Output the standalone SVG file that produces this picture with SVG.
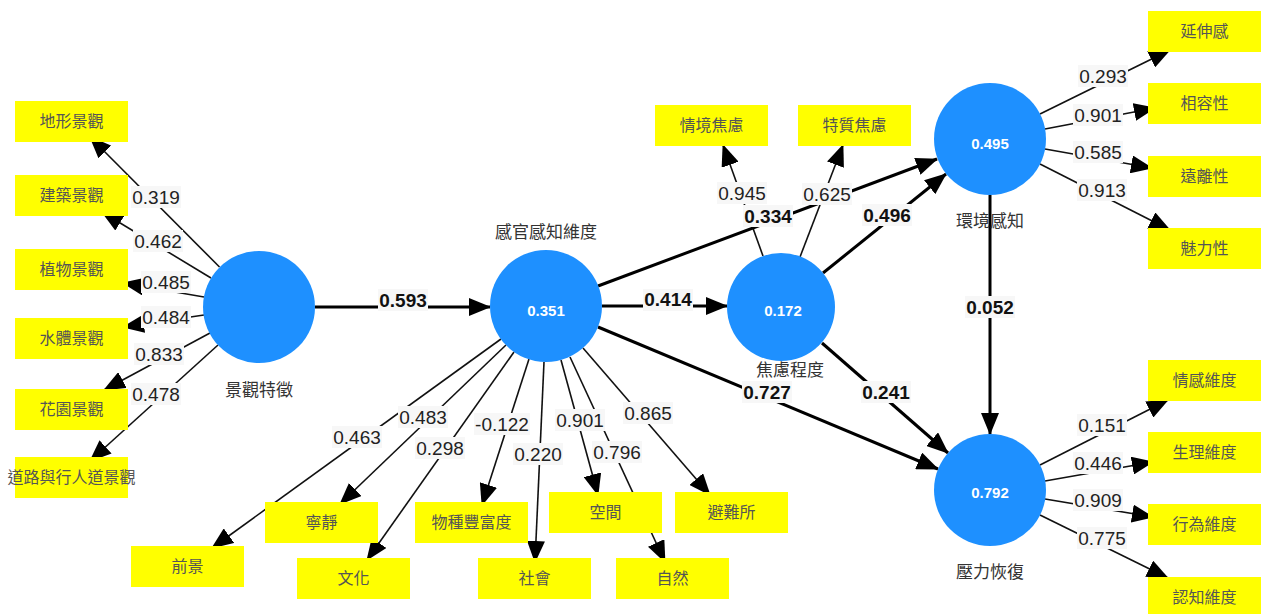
<svg xmlns="http://www.w3.org/2000/svg" width="1266" height="614" viewBox="0 0 1266 614">
<style>
.bg{fill:#ffffff}
.box{fill:#ffff00}
.node{fill:#1e90ff}
.bt{font-family:"Noto Sans CJK TC","Noto Sans CJK SC",sans-serif;font-size:16px;fill:#555;text-anchor:middle}
.nl{font-family:"Noto Sans CJK TC","Noto Sans CJK SC",sans-serif;font-size:17px;fill:#333;text-anchor:middle}
.nv{font-family:"Liberation Sans",Arial,sans-serif;font-size:15px;font-weight:bold;fill:#fff;text-anchor:middle}
.thin{stroke:#111;stroke-width:1.6;fill:none;marker-end:url(#ah)}
.thick{stroke:#000;stroke-width:3;fill:none;marker-end:url(#ah)}
.lr{fill:#f7f7f7}
.lt{font-family:"Liberation Sans",Arial,sans-serif;font-size:19px;fill:#222;text-anchor:middle}
.lb{font-family:"Liberation Sans",Arial,sans-serif;font-size:19px;font-weight:bold;fill:#111;text-anchor:middle}
</style>
<defs>
<marker id="ah" markerUnits="userSpaceOnUse" viewBox="0 0 22 18" markerWidth="22" markerHeight="18" refX="21" refY="9" orient="auto">
<path d="M0,0 L22,9 L0,18 z" fill="#000"/>
</marker>
</defs>
<rect width="1266" height="614" class="bg"/>

<g id="connectors">
<!-- 景觀特徵 indicators -->
<line class="thin" x1="219.5" y1="267" x2="90" y2="137"/>
<line class="thin" x1="211" y1="278" x2="102" y2="212"/>
<line class="thin" x1="204" y1="297" x2="123" y2="283"/>
<line class="thin" x1="204" y1="315" x2="123" y2="327"/>
<line class="thin" x1="210" y1="333" x2="104" y2="390"/>
<line class="thin" x1="218" y1="345" x2="90" y2="461"/>
<!-- 感官感知維度 indicators -->
<line class="thin" x1="501" y1="339" x2="212" y2="548"/>
<line class="thin" x1="506" y1="345" x2="340" y2="504"/>
<line class="thin" x1="514" y1="352" x2="367" y2="560"/>
<line class="thin" x1="529" y1="359" x2="482" y2="505"/>
<line class="thin" x1="544" y1="362" x2="535" y2="562"/>
<line class="thin" x1="561" y1="360" x2="598" y2="495"/>
<line class="thin" x1="570" y1="357" x2="665" y2="562"/>
<line class="thin" x1="583" y1="348" x2="710" y2="495"/>
<!-- 焦慮程度 indicators -->
<line class="thin" x1="763" y1="256" x2="723" y2="145"/>
<line class="thin" x1="800" y1="257" x2="843" y2="145"/>
<!-- 環境感知 indicators -->
<line class="thin" x1="1040" y1="114" x2="1170" y2="50"/>
<line class="thin" x1="1045" y1="129" x2="1155" y2="108"/>
<line class="thin" x1="1045" y1="149" x2="1152" y2="168"/>
<line class="thin" x1="1040" y1="164" x2="1170" y2="230"/>
<!-- 壓力恢復 indicators -->
<line class="thin" x1="1040" y1="465" x2="1168" y2="400"/>
<line class="thin" x1="1045" y1="481" x2="1153" y2="462"/>
<line class="thin" x1="1045" y1="499" x2="1153" y2="517"/>
<line class="thin" x1="1040" y1="515" x2="1168" y2="578"/>
<!-- structural paths -->
<line class="thick" x1="315" y1="307" x2="490" y2="307"/>
<line class="thick" x1="602" y1="306" x2="727" y2="306"/>
<line class="thick" x1="598" y1="286" x2="937" y2="159"/>
<line class="thick" x1="823" y1="273" x2="946" y2="174"/>
<line class="thick" x1="822" y1="343" x2="948" y2="453"/>
<line class="thick" x1="598" y1="327" x2="938" y2="469"/>
<line class="thick" x1="990" y1="195" x2="990" y2="434"/>

<!-- labels -->
<g>
<rect class="lr" x="131" y="186" width="50" height="22"/><text class="lt" x="156" y="204">0.319</text>
<rect class="lr" x="133" y="230" width="50" height="22"/><text class="lt" x="158" y="248">0.462</text>
<rect class="lr" x="141" y="271" width="50" height="22"/><text class="lt" x="166" y="289">0.485</text>
<rect class="lr" x="141" y="306" width="50" height="22"/><text class="lt" x="166" y="324">0.484</text>
<rect class="lr" x="134" y="343" width="50" height="22"/><text class="lt" x="159" y="361">0.833</text>
<rect class="lr" x="131" y="383" width="50" height="22"/><text class="lt" x="156" y="401">0.478</text>

<rect class="lr" x="332" y="426" width="50" height="22"/><text class="lt" x="357" y="444">0.463</text>
<rect class="lr" x="398" y="406" width="50" height="22"/><text class="lt" x="423" y="424">0.483</text>
<rect class="lr" x="415" y="437" width="50" height="22"/><text class="lt" x="440" y="455">0.298</text>
<rect class="lr" x="474" y="413" width="56" height="22"/><text class="lt" x="502" y="431">-0.122</text>
<rect class="lr" x="513" y="443" width="50" height="22"/><text class="lt" x="538" y="461">0.220</text>
<rect class="lr" x="555" y="409" width="50" height="22"/><text class="lt" x="580" y="427">0.901</text>
<rect class="lr" x="592" y="441" width="50" height="22"/><text class="lt" x="617" y="459">0.796</text>
<rect class="lr" x="623" y="402" width="50" height="22"/><text class="lt" x="648" y="420">0.865</text>

<rect class="lr" x="717" y="182" width="50" height="22"/><text class="lt" x="742" y="200">0.945</text>
<rect class="lr" x="802" y="183" width="50" height="22"/><text class="lt" x="827" y="201">0.625</text>

<rect class="lr" x="1078" y="65" width="50" height="22"/><text class="lt" x="1103" y="83">0.293</text>
<rect class="lr" x="1073" y="104" width="50" height="22"/><text class="lt" x="1098" y="122">0.901</text>
<rect class="lr" x="1073" y="141" width="50" height="22"/><text class="lt" x="1098" y="159">0.585</text>
<rect class="lr" x="1077" y="179" width="50" height="22"/><text class="lt" x="1102" y="197">0.913</text>

<rect class="lr" x="1077" y="414" width="50" height="22"/><text class="lt" x="1102" y="432">0.151</text>
<rect class="lr" x="1073" y="452" width="50" height="22"/><text class="lt" x="1098" y="470">0.446</text>
<rect class="lr" x="1073" y="489" width="50" height="22"/><text class="lt" x="1098" y="507">0.909</text>
<rect class="lr" x="1077" y="527" width="50" height="22"/><text class="lt" x="1102" y="545">0.775</text>

<rect class="lr" x="378" y="289" width="50" height="22"/><text class="lb" x="403" y="307">0.593</text>
<rect class="lr" x="643" y="289" width="50" height="22"/><text class="lb" x="668" y="306">0.414</text>
<rect class="lr" x="743" y="205" width="50" height="22"/><text class="lb" x="768" y="223">0.334</text>
<rect class="lr" x="862" y="204" width="50" height="22"/><text class="lb" x="887" y="222">0.496</text>
<rect class="lr" x="861" y="381" width="50" height="22"/><text class="lb" x="886" y="399">0.241</text>
<rect class="lr" x="742" y="381" width="50" height="22"/><text class="lb" x="767" y="399">0.727</text>
<rect class="lr" x="965" y="296" width="50" height="22"/><text class="lb" x="990" y="314">0.052</text>
</g>
</g>

<g id="n-jingguan"><circle class="node" cx="259" cy="307" r="56"/><text class="nl" x="259" y="396">景觀特徵</text></g>
<g id="n-ganguan"><circle class="node" cx="546" cy="306" r="56"/><text class="nv" x="546" y="316">0.351</text><text class="nl" x="546" y="238">感官感知維度</text></g>
<g id="n-jiaolv"><circle class="node" cx="781" cy="307" r="54"/><text class="nv" x="783" y="316">0.172</text><text class="nl" x="790" y="376">焦慮程度</text></g>
<g id="n-huanjing"><circle class="node" cx="990" cy="139" r="56"/><text class="nv" x="990" y="149">0.495</text><text class="nl" x="990" y="227">環境感知</text></g>
<g id="n-yali"><circle class="node" cx="990" cy="490" r="56"/><text class="nv" x="990" y="498">0.792</text><text class="nl" x="990" y="578">壓力恢復</text></g>

<g id="i-dixing"><rect class="box" x="15" y="101" width="113" height="41"/><text class="bt" x="71.5" y="127">地形景觀</text></g>
<g id="i-jianzhu"><rect class="box" x="15" y="175" width="113" height="41"/><text class="bt" x="71.5" y="201">建築景觀</text></g>
<g id="i-zhiwu"><rect class="box" x="15" y="249" width="113" height="41"/><text class="bt" x="71.5" y="275">植物景觀</text></g>
<g id="i-shuiti"><rect class="box" x="15" y="318" width="113" height="41"/><text class="bt" x="71.5" y="344">水體景觀</text></g>
<g id="i-huayuan"><rect class="box" x="15" y="389" width="113" height="41"/><text class="bt" x="71.5" y="415">花園景觀</text></g>
<g id="i-daolu"><rect class="box" x="15" y="457" width="113" height="41"/><text class="bt" x="71.5" y="483">道路與行人道景觀</text></g>

<g id="i-qingjing"><rect class="box" x="655" y="105" width="113" height="41"/><text class="bt" x="711.5" y="131">情境焦慮</text></g>
<g id="i-tezhi"><rect class="box" x="798" y="105" width="113" height="41"/><text class="bt" x="854.5" y="131">特質焦慮</text></g>

<g id="i-qianjing"><rect class="box" x="131" y="546" width="113" height="41"/><text class="bt" x="187.5" y="572">前景</text></g>
<g id="i-ningjing"><rect class="box" x="265" y="502" width="113" height="41"/><text class="bt" x="321.5" y="528">寧靜</text></g>
<g id="i-wenhua"><rect class="box" x="297" y="558" width="113" height="41"/><text class="bt" x="353.5" y="584">文化</text></g>
<g id="i-wuzhong"><rect class="box" x="415" y="502" width="113" height="41"/><text class="bt" x="471.5" y="528">物種豐富度</text></g>
<g id="i-shehui"><rect class="box" x="478" y="558" width="113" height="41"/><text class="bt" x="534.5" y="584">社會</text></g>
<g id="i-kongjian"><rect class="box" x="549" y="492" width="113" height="41"/><text class="bt" x="605.5" y="518">空間</text></g>
<g id="i-ziran"><rect class="box" x="616" y="558" width="113" height="41"/><text class="bt" x="672.5" y="584">自然</text></g>
<g id="i-binan"><rect class="box" x="675" y="492" width="113" height="41"/><text class="bt" x="731.5" y="518">避難所</text></g>

<g id="i-yanshen"><rect class="box" x="1148" y="11" width="113" height="41"/><text class="bt" x="1204.5" y="37">延伸感</text></g>
<g id="i-xiangrong"><rect class="box" x="1148" y="83" width="113" height="41"/><text class="bt" x="1204.5" y="109">相容性</text></g>
<g id="i-yuanli"><rect class="box" x="1148" y="156" width="113" height="41"/><text class="bt" x="1204.5" y="182">遠離性</text></g>
<g id="i-meili"><rect class="box" x="1148" y="228" width="113" height="41"/><text class="bt" x="1204.5" y="254">魅力性</text></g>
<g id="i-qinggan"><rect class="box" x="1148" y="360" width="113" height="41"/><text class="bt" x="1204.5" y="386">情感維度</text></g>
<g id="i-shengli"><rect class="box" x="1148" y="432" width="113" height="41"/><text class="bt" x="1204.5" y="458">生理維度</text></g>
<g id="i-xingwei"><rect class="box" x="1148" y="504" width="113" height="41"/><text class="bt" x="1204.5" y="530">行為維度</text></g>
<g id="i-renzhi"><rect class="box" x="1148" y="577" width="113" height="41"/><text class="bt" x="1204.5" y="603">認知維度</text></g>
</svg>
